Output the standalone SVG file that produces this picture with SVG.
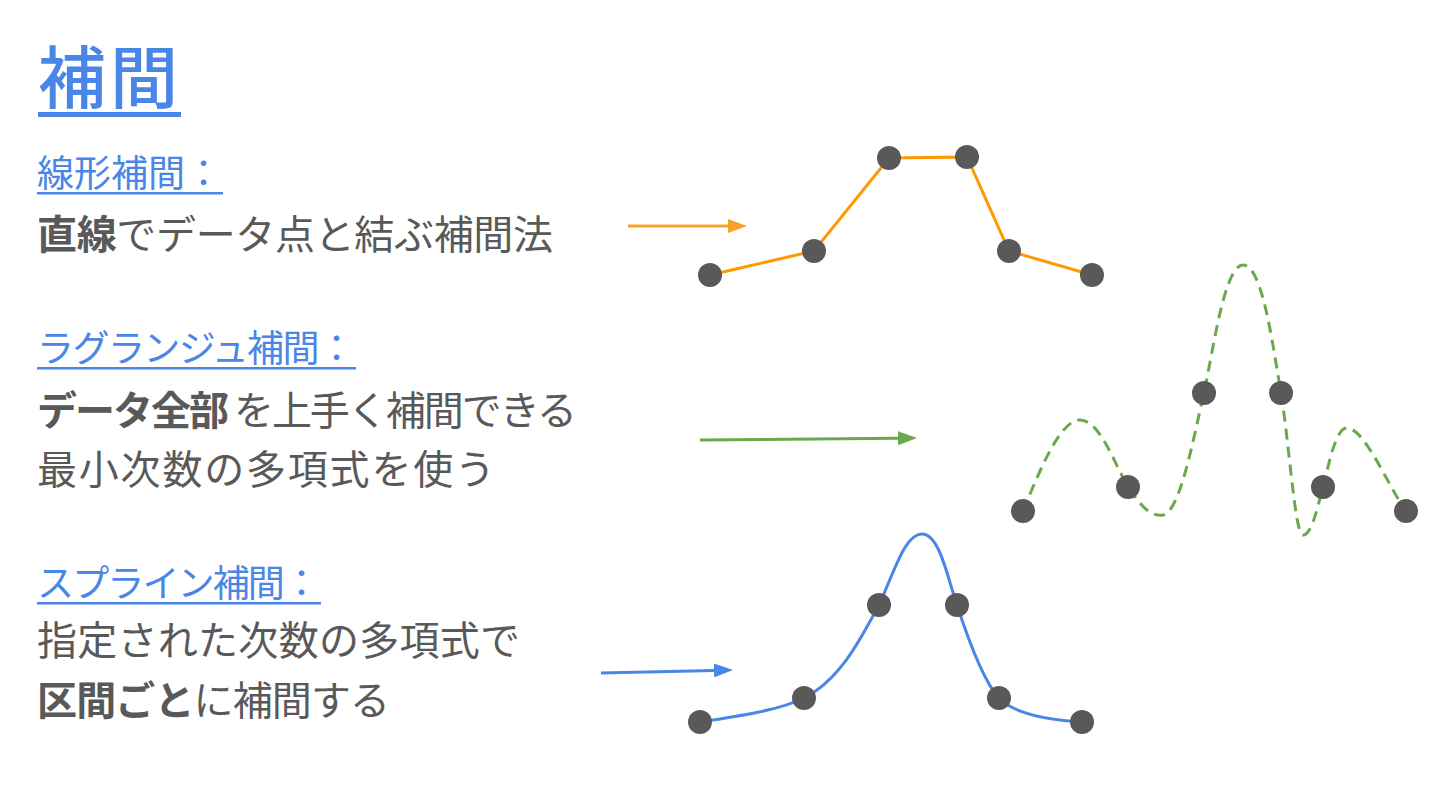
<svg xmlns="http://www.w3.org/2000/svg" width="1440" height="810" viewBox="0 0 1440 810">
<style>
text{font-family:"Noto Sans CJK JP","Noto Sans",sans-serif;}
.title{font-size:68px;fill:#4a86e8;font-weight:500;}
.head{font-size:37px;fill:#4a86e8;}
.body{font-size:40px;fill:#595959;}
.b{font-weight:bold;}
.ul{fill:#4a86e8;}
.dot{fill:#595959;}
</style>
<defs>
<marker id="ahO" markerUnits="userSpaceOnUse" markerWidth="20" markerHeight="14" refX="0" refY="7" orient="auto"><path d="M0,0 L19,7 L0,14 Z" fill="#f8a128"/></marker>
<marker id="ahG" markerUnits="userSpaceOnUse" markerWidth="20" markerHeight="14" refX="0" refY="7" orient="auto"><path d="M0,0 L19,7 L0,14 Z" fill="#6aa84f"/></marker>
<marker id="ahB" markerUnits="userSpaceOnUse" markerWidth="20" markerHeight="14" refX="0" refY="7" orient="auto"><path d="M0,0 L19,7 L0,14 Z" fill="#4a86e8"/></marker>
</defs>
<rect width="1440" height="810" fill="#ffffff"/>

<g id="title">
<text class="title" x="38" y="103" textLength="140">補間</text>
<rect class="ul" x="38" y="112" width="143" height="5"/>
</g>

<g id="linear-text">
<text class="head" x="37" y="187" textLength="185">線形補間：</text>
<rect class="ul" x="37" y="192" width="186" height="2.5"/>
<text class="body" x="37" y="249" textLength="516"><tspan class="b">直線</tspan>でデータ点と結ぶ補間法</text>
</g>

<g id="lagrange-text">
<text class="head" x="37" y="362" textLength="318">ラグランジュ補間：</text>
<rect class="ul" x="37" y="367" width="319" height="2.5"/>
<text class="body" x="37" y="425" textLength="540"><tspan class="b">データ全部</tspan> を上手く補間できる</text>
<text class="body" x="37" y="484" textLength="458">最小次数の多項式を使う</text>
</g>

<g id="spline-text">
<text class="head" x="37" y="597" textLength="283">スプライン補間：</text>
<rect class="ul" x="37" y="602" width="284" height="2.5"/>
<text class="body" x="37" y="655" textLength="483">指定された次数の多項式で</text>
<text class="body" x="37" y="715" textLength="353"><tspan class="b">区間ごと</tspan>に補間する</text>
</g>

<g id="connectors">
<line x1="628" y1="226" x2="728" y2="226" stroke="#f8a128" stroke-width="3" marker-end="url(#ahO)"/>
<line x1="700" y1="440" x2="898" y2="438.2" stroke="#6aa84f" stroke-width="3" marker-end="url(#ahG)"/>
<line x1="601" y1="673" x2="714" y2="670.4" stroke="#4a86e8" stroke-width="3" marker-end="url(#ahB)"/>
</g>

<g id="linear-plot">
<polyline points="710,275 814,251 889,158 967,157 1009,251 1092,275" fill="none" stroke="#ff9900" stroke-width="3"/>
<circle class="dot" cx="710" cy="275" r="12"/>
<circle class="dot" cx="814" cy="251" r="12"/>
<circle class="dot" cx="889" cy="158" r="12"/>
<circle class="dot" cx="967" cy="157" r="12"/>
<circle class="dot" cx="1009" cy="251" r="12"/>
<circle class="dot" cx="1092" cy="275" r="12"/>
</g>

<g id="lagrange-plot">
<path d="M1023,511 C1040,470 1060,420 1080,420 C1100,420 1115,465 1128,487 C1140,505 1150,517 1163,515 C1180,512 1193,440 1204,393 C1214,345 1225,265 1243,265 C1262,265 1272,340 1281,393 C1290,450 1295,535 1303,535 C1312,535 1318,505 1323,487 C1328,469 1335,428 1347,428 C1365,428 1390,490 1406,511" fill="none" stroke="#6aa84f" stroke-width="3" stroke-dasharray="11,7"/>
<circle class="dot" cx="1023" cy="511" r="12"/>
<circle class="dot" cx="1128" cy="487" r="12"/>
<circle class="dot" cx="1204" cy="393" r="12"/>
<circle class="dot" cx="1281" cy="393" r="12"/>
<circle class="dot" cx="1323" cy="487" r="12"/>
<circle class="dot" cx="1406" cy="511" r="12"/>
</g>

<g id="spline-plot">
<path d="M700,722 C740,716 780,710 804,698 C840,680 860,640 879,605 C895,570 905,534 922,534 C940,534 948,580 957,605 C970,645 985,683 999,698 C1015,715 1050,720 1082,722" fill="none" stroke="#4a86e8" stroke-width="3"/>
<circle class="dot" cx="700" cy="722" r="12"/>
<circle class="dot" cx="804" cy="698" r="12"/>
<circle class="dot" cx="879" cy="605" r="12"/>
<circle class="dot" cx="957" cy="605" r="12"/>
<circle class="dot" cx="999" cy="698" r="12"/>
<circle class="dot" cx="1082" cy="722" r="12"/>
</g>
</svg>
